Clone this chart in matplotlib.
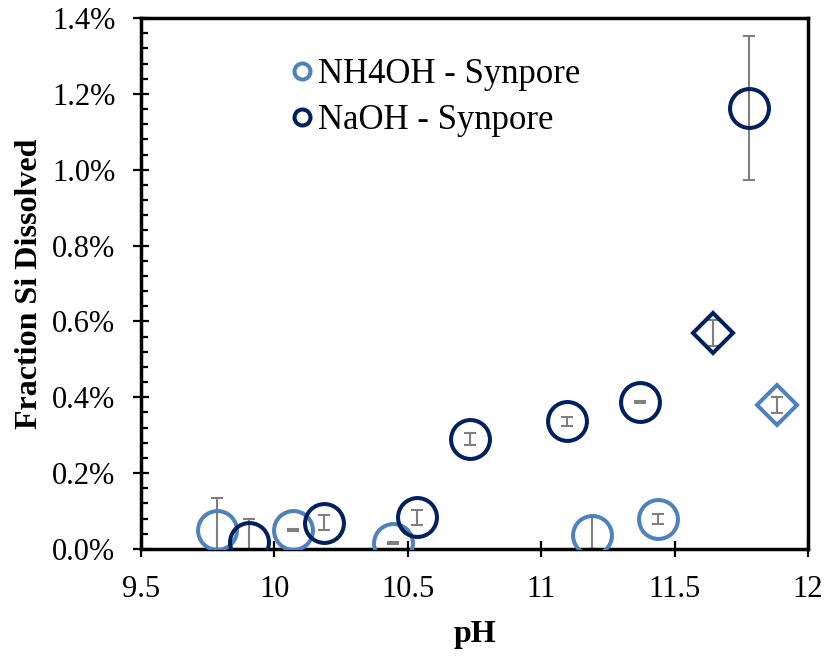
import matplotlib
matplotlib.use("Agg")
import matplotlib.pyplot as plt
from matplotlib.lines import Line2D
from matplotlib.ticker import FuncFormatter, MultipleLocator

plt.rcParams['font.family'] = ['Liberation Serif', 'DejaVu Serif']

# Data (fraction of Si dissolved, in %)
nh4_ph = [9.785, 10.07, 10.446, 11.19, 11.437]
nh4_val = [0.050, 0.050, 0.016, 0.037, 0.079]
nh4_err = [0.085, 0.002, 0.002, 0.050, 0.012]

naoh_ph = [9.905, 10.187, 10.536, 10.735, 11.095, 11.37, 11.78]
naoh_val = [0.019, 0.069, 0.084, 0.290, 0.337, 0.388, 1.163]
naoh_err = [0.060, 0.020, 0.020, 0.016, 0.012, 0.003, 0.190]

nh4_d_ph = [11.883]
nh4_d_val = [0.380]
nh4_d_err = [0.022]

naoh_d_ph = [11.643]
naoh_d_val = [0.570]
naoh_d_err = [0.034]

light = '#4F81BD'
dark = '#002060'
errc = '#7F7F7F'

fig = plt.figure(figsize=(8.27, 6.57), dpi=100)
ax = fig.add_axes([141/827, 1-549/657, 667/827, 531/657])

def plot_series(x, y, e, color, marker, ms):
    ax.errorbar(x, y, yerr=e, fmt='none', ecolor=errc, elinewidth=1.5,
                capsize=4.3, capthick=1.5, zorder=2)
    ax.plot(x, y, linestyle='none', marker=marker, markersize=ms,
            markerfacecolor='none', markeredgecolor=color,
            markeredgewidth=2.9, zorder=3)

plot_series(nh4_ph, nh4_val, nh4_err, light, 'o', 28)
plot_series(naoh_ph, naoh_val, naoh_err, dark, 'o', 28)
plot_series(nh4_d_ph, nh4_d_val, nh4_d_err, light, 'D', 20.5)
plot_series(naoh_d_ph, naoh_d_val, naoh_d_err, dark, 'D', 20.5)

ax.set_xlim(9.5, 12)
ax.set_ylim(0, 1.4)
ax.xaxis.set_major_locator(MultipleLocator(0.5))
ax.yaxis.set_major_locator(MultipleLocator(0.2))
ax.yaxis.set_minor_locator(MultipleLocator(0.04))
ax.xaxis.set_major_formatter(FuncFormatter(lambda v, p: ('%g' % v)))
ax.yaxis.set_major_formatter(FuncFormatter(lambda v, p: '%.1f%%' % v))

for s in ax.spines.values():
    s.set_linewidth(2.5)
    s.set_color('black')
ax.tick_params(axis='x', which='major', direction='inout', length=11,
               width=1.6, labelsize=22, colors='black', pad=13)
ax.tick_params(axis='y', which='major', direction='inout', length=11,
               width=1.6, labelsize=22, colors='black', pad=13)
ax.tick_params(axis='y', which='minor', direction='in', length=5,
               width=1.6, colors='black')

ax.set_xlabel('pH', fontsize=23, fontweight='bold', labelpad=12)
ax.set_ylabel('Fraction Si Dissolved', fontsize=23, fontweight='bold', labelpad=6)

handles = [
    Line2D([], [], linestyle='none', marker='o', markersize=11.5,
           markerfacecolor='none', markeredgecolor=light, markeredgewidth=2.9),
    Line2D([], [], linestyle='none', marker='o', markersize=11.5,
           markerfacecolor='none', markeredgecolor=dark, markeredgewidth=2.9),
]
ax.legend(handles, ['NH4OH - Synpore', 'NaOH - Synpore'], frameon=False,
          loc='upper left', bbox_to_anchor=(0.2024, 0.95), fontsize=25,
          handlelength=0.7, handletextpad=0.1, labelspacing=0.37,
          borderaxespad=0)

fig.savefig('out.png', dpi=100)
